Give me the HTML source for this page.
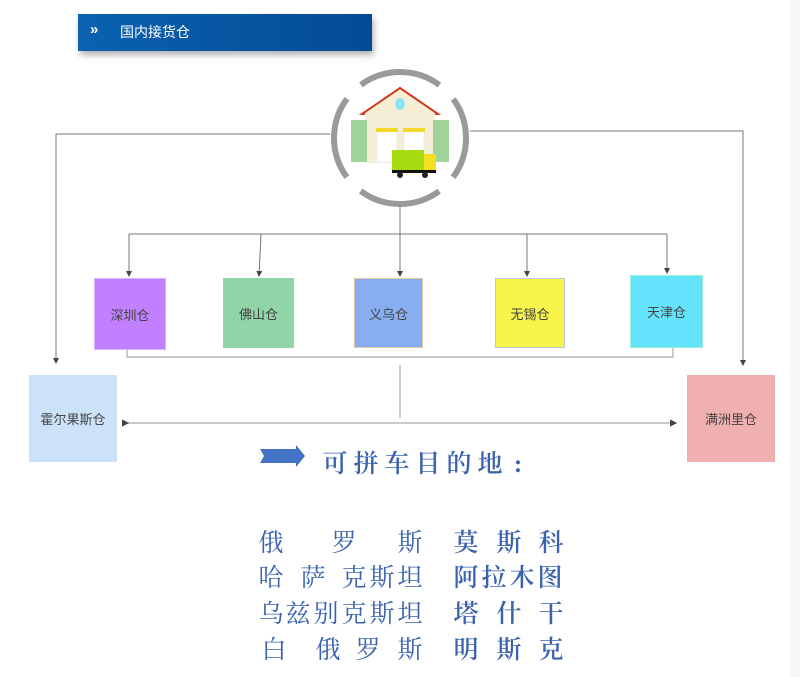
<!DOCTYPE html>
<html><head><meta charset="utf-8"><style>
body{margin:0;width:800px;height:677px;background:#fff;position:relative;overflow:hidden;font-family:"Liberation Sans","Noto Sans CJK SC",sans-serif}
.b{position:absolute;display:flex;align-items:center;justify-content:center;font-size:13px;color:#444;box-sizing:border-box}
.c{position:absolute;font-family:"Liberation Serif","Noto Serif CJK SC",serif;color:#3b62ad;font-size:25px;line-height:30px;width:26px;text-align:center;margin-top:3px}
.r{font-weight:600}
</style></head><body>
<div style="position:absolute;left:78px;top:14px;width:294px;height:37px;background:linear-gradient(90deg,#0a62b0,#034a94);box-shadow:2px 4px 6px rgba(0,0,0,.3)"></div>
<div style="position:absolute;left:90px;top:21px;color:#fff;font-size:15px;font-weight:bold">»</div>
<div style="position:absolute;left:120px;top:22px;color:#fff;font-size:14px">国内接货仓</div>
<svg width="800" height="677" style="position:absolute;left:0;top:0">
<defs><marker id="a" markerWidth="6" markerHeight="6" refX="5" refY="3" orient="auto"><path d="M0,0L6,3L0,6z" fill="#444"/></marker></defs>
<g stroke="#777" stroke-width="1" fill="none">
<path d="M330,134H56V363" marker-end="url(#a)"/>
<path d="M470,131H743V365" marker-end="url(#a)"/>
<path d="M400,205V234"/>
<path d="M129,234H667"/>
<path d="M129,234V276" marker-end="url(#a)"/>
<path d="M261,234L259,276" marker-end="url(#a)"/>
<path d="M400,234V276" marker-end="url(#a)"/>
<path d="M527,234V276" marker-end="url(#a)"/>
<path d="M667,234V273" marker-end="url(#a)"/>
</g>
<g stroke="#aaa" stroke-width="1.2" fill="none">
<path d="M127,350V357H673V348"/>
<path d="M400,365V418"/>
<path d="M128,423H676" marker-end="url(#a)" marker-start="url(#a)"/>
</g>
<circle cx="400" cy="138" r="66" fill="none" stroke="#9a9a9a" stroke-width="6" stroke-dasharray="84 19.7" stroke-dashoffset="42"/>
<path d="M362,114L400,88L438,114Z" fill="#f6efd6" stroke="#d23a20" stroke-width="2"/>
<rect x="365" y="113" width="70" height="50" fill="#f4eed8"/>
<ellipse cx="400" cy="104" rx="5" ry="6" fill="#8de4f4"/>
<rect x="351" y="120" width="16" height="42" fill="#9ed49a"/><rect x="433" y="120" width="16" height="42" fill="#9ed49a"/>
<rect x="377" y="130" width="20" height="32" fill="#fff" stroke="#eee"/><rect x="404" y="130" width="20" height="32" fill="#fff" stroke="#eee"/>
<rect x="376" y="128" width="22" height="4" fill="#f4d82a"/><rect x="403" y="128" width="22" height="4" fill="#f4d82a"/>
<rect x="392" y="150" width="32" height="22" fill="#a6dc10"/><rect x="424" y="154" width="12" height="18" fill="#f4e020"/>
<rect x="392" y="170" width="44" height="3" fill="#111"/>
<circle cx="400" cy="175" r="3" fill="#222"/><circle cx="425" cy="175" r="3" fill="#222"/>
<path d="M260,449H296V445L305,456L296,467V463H260L264,456Z" fill="#4472c4"/>
</svg>
<div class="b" style="left:94px;top:278px;width:72px;height:72px;background:#c080ff;border:1px solid #d8b0ff">深圳仓</div>
<div class="b" style="left:223px;top:278px;width:71px;height:70px;background:#90d4a8">佛山仓</div>
<div class="b" style="left:354px;top:278px;width:69px;height:70px;background:#88aef0;border:1px solid #e0c8a0">义乌仓</div>
<div class="b" style="left:495px;top:278px;width:70px;height:70px;background:#f8f44a;border:1px solid #b8c8d8">无锡仓</div>
<div class="b" style="left:630px;top:275px;width:73px;height:73px;background:#64e4fc;border:1px solid #9ed">天津仓</div>
<div class="b" style="left:29px;top:375px;width:88px;height:87px;background:#cce2f8">霍尔果斯仓</div>
<div class="b" style="left:687px;top:375px;width:88px;height:87px;background:#f0b0b0">满洲里仓</div>

<div class="c r" style="left:322px;top:447px">可</div>
<div class="c r" style="left:353px;top:447px">拼</div>
<div class="c r" style="left:384px;top:447px">车</div>
<div class="c r" style="left:415px;top:447px">目</div>
<div class="c r" style="left:446px;top:447px">的</div>
<div class="c r" style="left:477px;top:447px">地</div>
<div class="c r" style="left:505px;top:447px">:</div>

<div class="c" style="left:258px;top:526px">俄</div>
<div class="c" style="left:331px;top:526px">罗</div>
<div class="c" style="left:397px;top:526px">斯</div>
<div class="c r" style="left:453px;top:526px">莫</div>
<div class="c r" style="left:496px;top:526px">斯</div>
<div class="c r" style="left:538px;top:526px">科</div>

<div class="c" style="left:258px;top:561px">哈</div>
<div class="c" style="left:300px;top:561px">萨</div>
<div class="c" style="left:341px;top:561px">克</div>
<div class="c" style="left:369px;top:561px">斯</div>
<div class="c" style="left:397px;top:561px">坦</div>
<div class="c r" style="left:453px;top:561px">阿</div>
<div class="c r" style="left:481px;top:561px">拉</div>
<div class="c r" style="left:509px;top:561px">木</div>
<div class="c r" style="left:537px;top:561px">图</div>

<div class="c" style="left:258px;top:597px">乌</div>
<div class="c" style="left:285px;top:597px">兹</div>
<div class="c" style="left:313px;top:597px">别</div>
<div class="c" style="left:341px;top:597px">克</div>
<div class="c" style="left:369px;top:597px">斯</div>
<div class="c" style="left:397px;top:597px">坦</div>
<div class="c r" style="left:453px;top:597px">塔</div>
<div class="c r" style="left:496px;top:597px">什</div>
<div class="c r" style="left:538px;top:597px">干</div>

<div class="c" style="left:261px;top:633px">白</div>
<div class="c" style="left:315px;top:633px">俄</div>
<div class="c" style="left:355px;top:633px">罗</div>
<div class="c" style="left:397px;top:633px">斯</div>
<div class="c r" style="left:453px;top:633px">明</div>
<div class="c r" style="left:496px;top:633px">斯</div>
<div class="c r" style="left:538px;top:633px">克</div>
<div style="position:absolute;left:790px;top:0;width:10px;height:677px;background:#f6f6f6"></div>
</body></html>
